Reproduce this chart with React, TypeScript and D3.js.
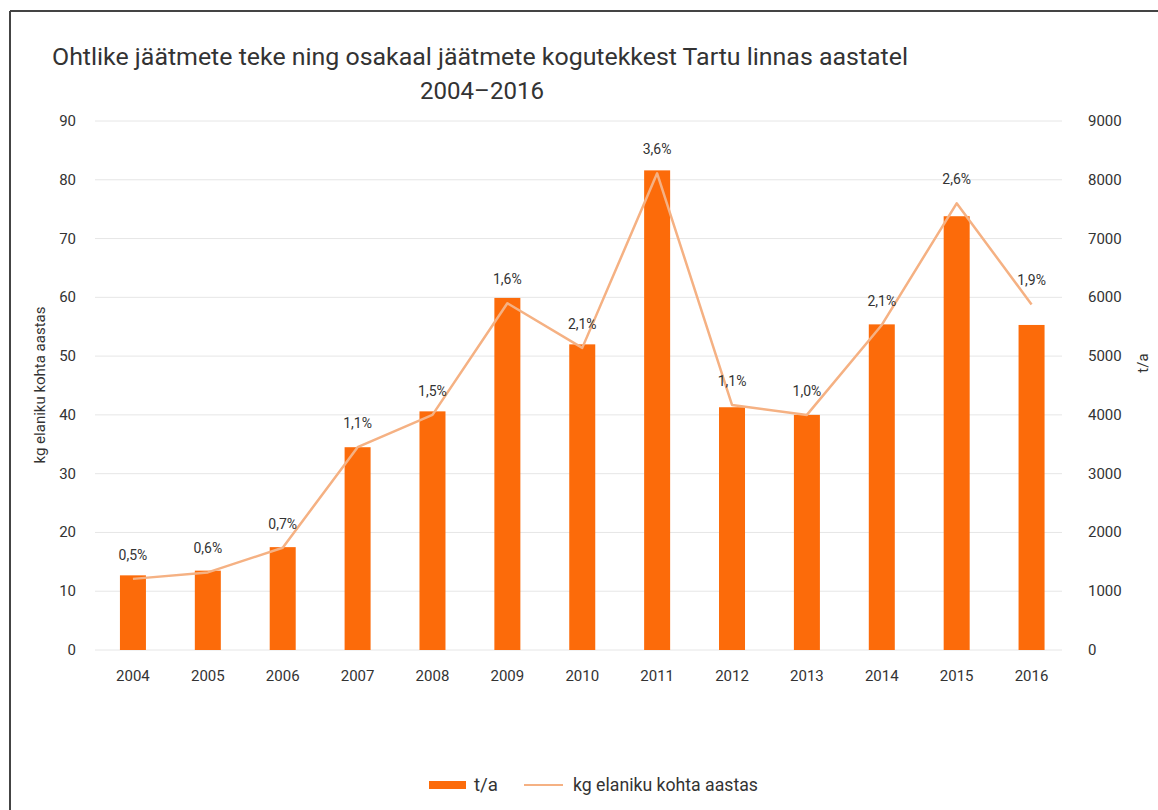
import React from "react";
import * as d3 from "d3";

const years = ["2004","2005","2006","2007","2008","2009","2010","2011","2012","2013","2014","2015","2016"];
const tonnes = [1270, 1350, 1750, 3450, 4060, 5990, 5200, 8160, 4130, 4000, 5540, 7380, 5530];
const kgPerCapita = [12.1, 13.2, 17.4, 34.5, 40.0, 59.0, 51.4, 81.1, 41.7, 40.0, 55.3, 76.0, 58.8];
const shareLabels = ["0,5%","0,6%","0,7%","1,1%","1,5%","1,6%","2,1%","3,6%","1,1%","1,0%","2,1%","2,6%","1,9%"];
const leftTicks = [0,10,20,30,40,50,60,70,80,90];
const rightTicks = [0,1000,2000,3000,4000,5000,6000,7000,8000,9000];

const titleLine1 = "Ohtlike jäätmete teke ning osakaal jäätmete kogutekkest Tartu linnas aastatel";
const titleLine2 = "2004\u20132016";
const leftTitle = "kg elaniku kohta aastas";
const rightTitle = "t/a";
const legendBar = "t/a";
const legendLine = "kg elaniku kohta aastas";

const BAR = "#fc6b0a";
const LINE = "#f5b183";
const TEXT = "#333333";
const FONT = "Roboto, 'Noto Sans', sans-serif";

export default function App() {
  const W = 1158, H = 810;
  const x = d3.scaleBand<string>().domain(years).range([95.5, 1069]).padding(0);
  const step = x.step();
  const bw = 26;
  const cx = (y: string) => (x(y) as number) + step / 2;
  const yL = d3.scaleLinear().domain([0, 90]).range([650, 121]);
  const yR = d3.scaleLinear().domain([0, 9000]).range([650, 121]);
  const line = d3.line<number>().x((_, i) => cx(years[i])).y((d) => yL(d));

  return (
    <svg width={W} height={H} style={{ position: "absolute", left: 0, top: 0 }} fontFamily={FONT}>
      <rect x={0} y={0} width={W} height={H} fill="#ffffff" />
      <line x1={10} y1={11} x2={W} y2={11} stroke="#444" strokeWidth={2} />
      <line x1={10} y1={11} x2={10} y2={H} stroke="#444" strokeWidth={2} />

      <text x={480} y={65} textAnchor="middle" fontSize={24} fill={TEXT} textLength={856} lengthAdjust="spacingAndGlyphs">{titleLine1}</text>
      <text x={482} y={99} textAnchor="middle" fontSize={24} fill={TEXT} textLength={124} lengthAdjust="spacingAndGlyphs">{titleLine2}</text>

      {leftTicks.map((t) => (
        <line key={"g" + t} x1={95} x2={1062} y1={yL(t)} y2={yL(t)} stroke="#e6e6e6" strokeWidth={1} />
      ))}
      {leftTicks.map((t) => (
        <text key={"l" + t} x={76} y={yL(t) + 5} textAnchor="end" fontSize={15} fill={TEXT}>{t}</text>
      ))}
      {rightTicks.map((t) => (
        <text key={"r" + t} x={1088} y={yR(t) + 5} textAnchor="start" fontSize={15} fill={TEXT}>{t}</text>
      ))}

      <text transform={`translate(45,385) rotate(-90)`} textAnchor="middle" fontSize={15} fill={TEXT}>{leftTitle}</text>
      <text transform={`translate(1148,363) rotate(-90)`} textAnchor="middle" fontSize={15} fill={TEXT}>{rightTitle}</text>

      {years.map((yr, i) => (
        <rect key={"b" + yr} x={cx(yr) - bw / 2} y={yR(tonnes[i])} width={bw} height={yR(0) - yR(tonnes[i])} fill={BAR} />
      ))}
      <path d={line(kgPerCapita) || ""} fill="none" stroke={LINE} strokeWidth={2.5} strokeLinejoin="round" />

      {years.map((yr, i) => (
        <text key={"p" + yr} x={cx(yr)} y={yL(kgPerCapita[i]) - 19} textAnchor="middle" fontSize={14} fill={TEXT}>{shareLabels[i]}</text>
      ))}
      {years.map((yr) => (
        <text key={"x" + yr} x={cx(yr)} y={681} textAnchor="middle" fontSize={15} fill={TEXT}>{yr}</text>
      ))}

      <rect x={429} y={781} width={37} height={8} fill={BAR} />
      <text x={474} y={791} fontSize={19} fill={TEXT} textLength={24} lengthAdjust="spacingAndGlyphs">{legendBar}</text>
      <line x1={524} x2={563} y1={785} y2={785} stroke={LINE} strokeWidth={2} />
      <text x={573} y={791} fontSize={19} fill={TEXT} textLength={185} lengthAdjust="spacingAndGlyphs">{legendLine}</text>
    </svg>
  );
}
